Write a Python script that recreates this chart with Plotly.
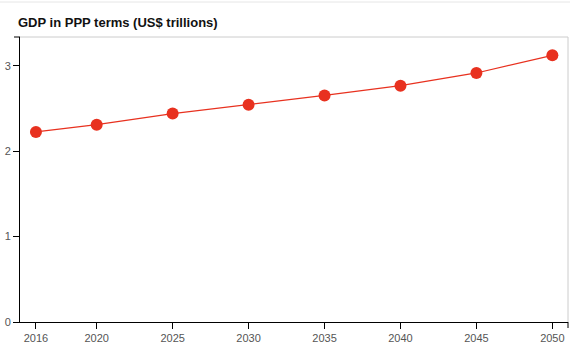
import plotly.graph_objects as go

years = [2016, 2020, 2025, 2030, 2035, 2040, 2045, 2050]
gdp = [2.225, 2.31, 2.44, 2.545, 2.653, 2.767, 2.916, 3.122]
y_ticks = [0, 1, 2, 3]
title_text = "GDP in PPP terms (US$ trillions)"

W, H = 570, 352
ml, mr, mt, mb = 20, 2, 37, 30
pw, ph = W - ml - mr, H - mt - mb

fig = go.Figure()
fig.add_trace(go.Scatter(
    x=years, y=gdp, mode="lines+markers",
    line=dict(color="#e8311f", width=1.2),
    marker=dict(color="#e8311f", size=12),
    hoverinfo="x+y", showlegend=False,
))

tickfont = dict(family="Liberation Sans, Arial, sans-serif", size=11, color="#555555")

fig.update_layout(
    width=W, height=H,
    margin=dict(l=ml, r=mr, t=mt, b=mb),
    paper_bgcolor="white", plot_bgcolor="white",
    title=dict(text="<b>" + title_text + "</b>", x=18 / W, xanchor="left",
               xref="container", yref="container", y=1 - 22 / H, yanchor="middle",
               font=dict(family="Liberation Sans, Arial, sans-serif", size=13, color="#111111")),
    xaxis=dict(range=[2014.95, 2051.03], tickvals=years, ticktext=[str(v) for v in years],
               showgrid=False, zeroline=False, showline=True, linecolor="black", linewidth=1,
               ticks="outside", ticklen=6, tickcolor="black", tickfont=tickfont, fixedrange=True),
    yaxis=dict(range=[0, 3.337], tickvals=y_ticks, showgrid=False, zeroline=False,
               showline=True, linecolor="black", linewidth=1,
               ticks="outside", ticklen=6, tickcolor="black", tickfont=tickfont, fixedrange=True),
    shapes=[
        # top and right border (light gray)
        dict(type="line", xref="paper", yref="paper", x0=0, x1=1, y0=1, y1=1,
             line=dict(color="#cccccc", width=1)),
        dict(type="line", xref="paper", yref="paper", x0=1, x1=1, y0=0, y1=1,
             line=dict(color="#cccccc", width=1)),
        # outer ticks
        dict(type="line", xref="paper", yref="paper", x0=-6 / pw, x1=0, y0=1, y1=1,
             line=dict(color="black", width=1)),
        dict(type="line", xref="paper", yref="paper", x0=1, x1=1, y0=0, y1=-6 / ph,
             line=dict(color="black", width=1)),
        # page top rule
        dict(type="line", xref="paper", yref="paper", x0=-ml / pw, x1=(W - ml) / pw,
             y0=(H - mb - 2) / ph, y1=(H - mb - 2) / ph, line=dict(color="#e6e6e6", width=1)),
    ],
)

fig.write_html("out.html")
